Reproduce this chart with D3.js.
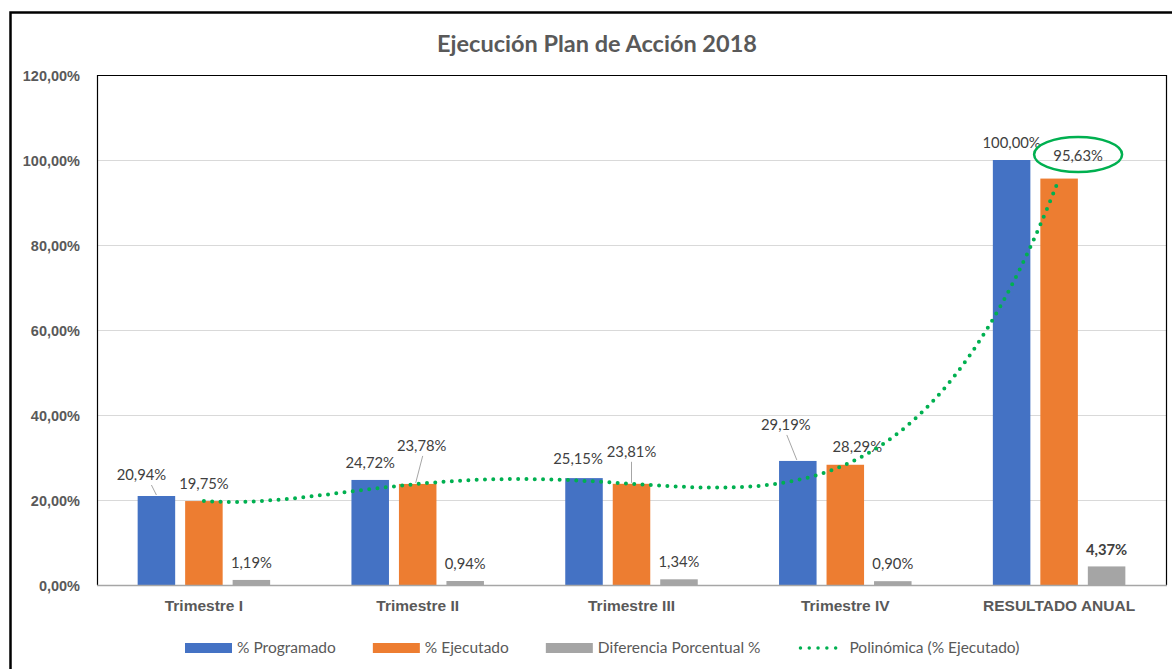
<!DOCTYPE html>
<html>
<head>
<meta charset="utf-8">
<script src="https://cdn.jsdelivr.net/npm/d3@7"></script>
<style>
  body { margin: 0; background: #fff; }
  svg { display: block; font-family: Lato, "Open Sans", sans-serif; }
  .grid line { stroke: #d9d9d9; }
  .ylab text { font-weight: bold; fill: #595959; font-size: 14.5px; }
  .xlab text { font-weight: bold; fill: #595959; font-size: 15.5px; }
  .lbl { fill: #404040; font-size: 14.8px; }
  .legend text { fill: #595959; font-size: 15.5px; }
</style>
</head>
<body>
<svg id="chart" width="1172" height="669"></svg>
<script>
// data
const categories = ["Trimestre I", "Trimestre II", "Trimestre III", "Trimestre IV", "RESULTADO ANUAL"];
const programado = [20.94, 24.72, 25.15, 29.19, 100.00];
const ejecutado  = [19.75, 23.78, 23.81, 28.29, 95.63];
const diferencia = [1.19, 0.94, 1.34, 0.90, 4.37];
const seriesNames = ["% Programado", "% Ejecutado", "Diferencia Porcentual %"];
const trendName = "Polinómica (% Ejecutado)";
const yTicks = [0, 20, 40, 60, 80, 100, 120];

const colors = ["#4472C4", "#ED7D31", "#A5A5A5"];
const green = "#00B050";

// manual label nudges (series, category) -> dx, dy, optional leader
const labelNudge = {
  "0-0": {dx: -15, dy: -4, leader: [10, 0]},
  "1-1": {dx: 4, dy: -21, leader: [1, -2]},
  "0-2": {dx: -6, dy: -2},
  "1-2": {dx: 0, dy: -15, leader: [0, 0]},
  "0-3": {dx: -12, dy: -19, leader: [1, -1]},
  "1-3": {dx: 12, dy: -1},
  "1-4": {dx: 19, dy: -6}
};

const svg = d3.select("#chart");
const margin = {left: 97, top: 75, right: 1166, bottom: 585};

// outer chart border
svg.append("rect")
    .attr("x", 10.5).attr("y", 12.5)
    .attr("width", 1180).attr("height", 680)
    .attr("fill", "none").attr("stroke", "#000").attr("stroke-width", 2.5);

svg.append("text")
    .attr("x", 597).attr("y", 52)
    .attr("text-anchor", "middle")
    .attr("font-size", "23.5px").attr("font-weight", "bold").attr("fill", "#595959")
    .text("Ejecución Plan de Acción 2018");

const y = d3.scaleLinear().domain([0, 120]).range([margin.bottom, margin.top]);
const x0 = d3.scaleBand().domain(categories).range([margin.left, margin.right]).padding(0);
const x1 = d3.scaleBand().domain(d3.range(3)).range([-66.25, 66.25]).paddingInner(0.21);

// gridlines
svg.append("g").attr("class", "grid")
    .selectAll("line")
    .data(yTicks.filter(d => d > 0 && d < 120))
    .enter().append("line")
    .attr("x1", margin.left).attr("x2", margin.right)
    .attr("y1", d => y(d) + 0.5).attr("y2", d => y(d) + 0.5);

// y axis labels
const fmt = v => d3.format(".2f")(v).replace(".", ",") + "%";
const yAxis = svg.append("g").attr("class", "ylab")
    .attr("transform", "translate(" + (margin.left - 17) + ",0)")
    .call(d3.axisLeft(y).tickValues(yTicks).tickSize(0).tickPadding(0).tickFormat(fmt));
yAxis.select(".domain").remove();
yAxis.selectAll("text").attr("dy", "0.35em");

// bars
const series = [programado, ejecutado, diferencia];
const barData = [];
series.forEach(function (vals, s) {
    vals.forEach(function (v, c) {
        barData.push({s: s, c: c, v: v});
    });
});
const barX = d => x0(categories[d.c]) + x0.bandwidth() / 2 + x1(d.s);

svg.append("g").selectAll("rect")
    .data(barData)
    .enter().append("rect")
    .attr("x", barX)
    .attr("y", d => y(d.v))
    .attr("width", x1.bandwidth())
    .attr("height", d => y(0) - y(d.v))
    .attr("fill", d => colors[d.s]);

// plot area frame and axis line
svg.append("path")
    .attr("d", "M" + (margin.left + 0.5) + "," + margin.bottom + "V" + (margin.top + 0.5) +
        "H" + (margin.right + 0.5) + "V" + margin.bottom)
    .attr("fill", "none").attr("stroke", "#000").attr("stroke-width", 1.2);
svg.append("line")
    .attr("x1", margin.left).attr("x2", margin.right + 1)
    .attr("y1", margin.bottom + 0.5).attr("y2", margin.bottom + 0.5)
    .attr("stroke", "#a6a6a6").attr("stroke-width", 1.5);

// x labels
const xAxis = svg.append("g").attr("class", "xlab")
    .attr("transform", "translate(0," + (margin.bottom + 21) + ")")
    .call(d3.axisBottom(x0).tickSize(0).tickPadding(0));
xAxis.select(".domain").remove();
xAxis.selectAll("text").attr("dy", "0.35em");

// data labels
const labels = svg.append("g");
barData.forEach(function (d) {
    const n = labelNudge[d.s + "-" + d.c] || {dx: 0, dy: 0};
    const bx = barX(d) + x1.bandwidth() / 2;
    const top = y(d.v);
    const lx = bx + n.dx;
    const ly = top - 17 + n.dy;
    if (n.leader) {
        labels.append("line")
            .attr("x1", lx + n.leader[0]).attr("y1", ly + 10)
            .attr("x2", bx + n.leader[1]).attr("y2", top - 1)
            .attr("stroke", "#a6a6a6").attr("stroke-width", 1);
    }
    labels.append("text")
        .attr("class", "lbl")
        .attr("x", lx).attr("y", ly)
        .attr("dy", "0.35em")
        .attr("text-anchor", "middle")
        .attr("font-weight", d.s === 2 && d.c === 4 ? "bold" : null)
        .text(fmt(d.v));
});

// polynomial trendline (order 4) of % Ejecutado
function poly(t) {
    let sum = 0;
    for (let i = 0; i < ejecutado.length; i++) {
        let p = 1;
        for (let j = 0; j < ejecutado.length; j++) {
            if (j !== i) p *= (t - j) / (i - j);
        }
        sum += ejecutado[i] * p;
    }
    return sum;
}
const firstX = x0(categories[0]) + x0.bandwidth() / 2;
const samples = d3.range(0, 4.0001, 0.02);
const trendLine = d3.line()
    .x(t => firstX + t * x0.step())
    .y(t => y(poly(t)));
svg.append("path")
    .datum(samples)
    .attr("d", trendLine)
    .attr("fill", "none")
    .attr("stroke", green).attr("stroke-width", 4)
    .attr("stroke-linecap", "round")
    .attr("stroke-dasharray", "0 8.3");

// highlight ellipse around the annual executed label
const annual = labelNudge["1-4"];
svg.append("ellipse")
    .attr("cx", x0(categories[4]) + x0.bandwidth() / 2 + annual.dx)
    .attr("cy", y(ejecutado[4]) - 17 + annual.dy - 1)
    .attr("rx", 44).attr("ry", 17.5)
    .attr("fill", "none").attr("stroke", green).attr("stroke-width", 2.5);

// legend
const legend = svg.append("g").attr("class", "legend");
let lx = 185;
const ly = 648;
seriesNames.concat([trendName]).forEach(function (name, i) {
    if (i < 3) {
        legend.append("rect")
            .attr("x", lx).attr("y", ly - 5)
            .attr("width", 47).attr("height", 10)
            .attr("fill", colors[i]);
    } else {
        legend.append("line")
            .attr("x1", lx + 3).attr("x2", lx + 47)
            .attr("y1", ly).attr("y2", ly)
            .attr("stroke", green).attr("stroke-width", 3.5)
            .attr("stroke-linecap", "round")
            .attr("stroke-dasharray", "0 8.8");
    }
    const t = legend.append("text")
        .attr("x", lx + 52).attr("y", ly)
        .attr("dy", "0.35em")
        .text(name);
    lx += 52 + t.node().getComputedTextLength() + 37;
});
</script>
</body>
</html>
